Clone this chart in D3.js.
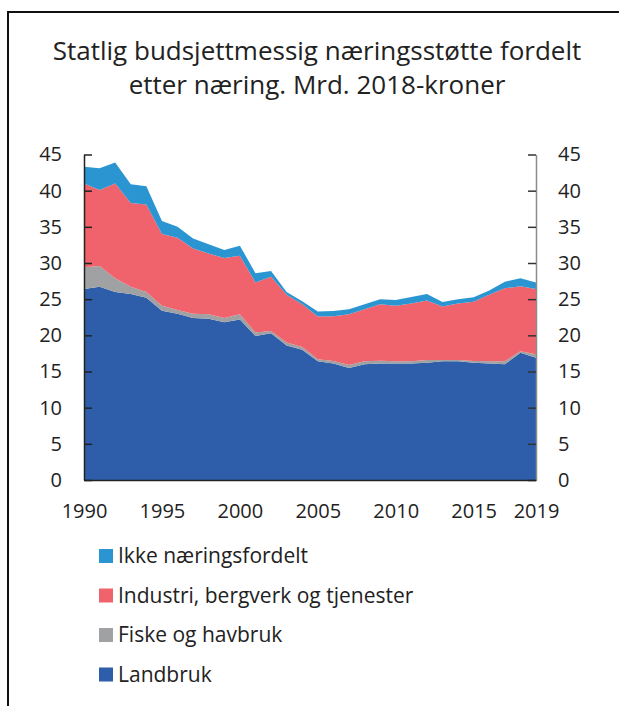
<!DOCTYPE html>
<html>
<head>
<meta charset="utf-8">
<script src="https://cdn.jsdelivr.net/npm/d3@7/dist/d3.min.js"></script>
<style>
  html, body { margin: 0; padding: 0; background: #fff; }
  svg { display: block; font-family: "Open Sans", "Noto Sans", sans-serif; }
</style>
</head>
<body>
<svg id="chart" width="619" height="706"></svg>
<script>
// Statlig budsjettmessig næringsstøtte, mrd. 2018-kroner
const years = d3.range(1990, 2020);

const landbruk = [26.4, 26.7, 26.0, 25.7, 25.2, 23.4, 23.0, 22.4, 22.3, 21.8,
                  22.2, 19.9, 20.3, 18.6, 18.0, 16.4, 16.1, 15.5, 16.0, 16.1,
                  16.1, 16.1, 16.2, 16.4, 16.4, 16.2, 16.1, 16.0, 17.6, 16.9];
const fiske    = [3.0, 2.9, 1.9, 1.0, 0.8, 0.7, 0.5, 0.6, 0.6, 0.6,
                  0.7, 0.5, 0.3, 0.4, 0.4, 0.3, 0.35, 0.4, 0.4, 0.4,
                  0.3, 0.3, 0.4, 0.2, 0.2, 0.25, 0.3, 0.4, 0.2, 0.5];
const industri = [11.6, 10.5, 13.1, 11.6, 12.1, 9.9, 10.0, 9.0, 8.4, 8.3,
                  8.1, 6.9, 7.5, 6.6, 5.9, 5.9, 6.2, 7.0, 7.2, 7.8,
                  7.7, 8.0, 8.2, 7.4, 7.8, 8.2, 9.2, 10.1, 9.0, 9.0];
const ikke     = [2.3, 3.0, 2.9, 2.6, 2.5, 1.8, 1.5, 1.4, 1.3, 1.1,
                  1.4, 1.3, 0.8, 0.4, 0.4, 0.7, 0.7, 0.7, 0.7, 0.7,
                  0.8, 0.9, 0.9, 0.6, 0.6, 0.6, 0.6, 0.9, 1.1, 0.9];

const seriesNames = ["Landbruk", "Fiske og havbruk", "Industri, bergverk og tjenester", "Ikke næringsfordelt"];
const seriesValues = [landbruk, fiske, industri, ikke];
const colors = ["#2e5eaa", "#9fa1a2", "#f0636c", "#2b95d2"];

const yTicks = d3.range(0, 50, 5);
const xTicks = [1990, 1995, 2000, 2005, 2010, 2015, 2019];

const titleLines = ["Statlig budsjettmessig næringsstøtte fordelt",
                    "etter næring. Mrd. 2018-kroner"];

const svg = d3.select("#chart");
const W = 619, H = 706;

// frame (top and left edges)
svg.append("path")
  .attr("d", `M8,${H} V12 H${W}`)
  .attr("fill", "none")
  .attr("stroke", "#111")
  .attr("stroke-width", 2);

// title
svg.append("text")
  .attr("text-anchor", "middle")
  .attr("font-size", 26)
  .attr("fill", "#222")
  .selectAll("tspan")
  .data(titleLines)
  .join("tspan")
  .attr("x", 317)
  .attr("y", (d, i) => 60 + i * 34)
  .text(d => d);

const x = d3.scaleLinear().domain([1990, 2019]).range([84, 536]);
const y = d3.scaleLinear().domain([0, 45]).range([480, 154.5]);

const rows = years.map((yr, i) => {
  const r = { year: yr };
  seriesNames.forEach((n, k) => r[n] = seriesValues[k][i]);
  return r;
});

const stack = d3.stack().keys(seriesNames);
const layers = stack(rows);

const area = d3.area()
  .x(d => x(d.data.year))
  .y0(d => y(d[0]))
  .y1(d => y(d[1]))
  .curve(d3.curveLinear);

svg.append("g")
  .selectAll("path")
  .data(layers)
  .join("path")
  .attr("fill", (d, i) => colors[i])
  .attr("d", area);

// left axis
const gL = svg.append("g")
  .attr("transform", `translate(${x.range()[0]},0)`)
  .call(d3.axisLeft(y).tickValues(yTicks).tickSizeInner(-8).tickSizeOuter(0).tickPadding(22));
gL.select(".domain").attr("stroke", "#222").attr("stroke-width", 1.5);
gL.selectAll(".tick line").attr("stroke", "#222").attr("stroke-width", 1.5);

// right axis
const gR = svg.append("g")
  .attr("transform", `translate(${x.range()[1]},0)`)
  .call(d3.axisRight(y).tickValues(yTicks).tickSizeInner(-8).tickSizeOuter(0).tickPadding(22));
gR.select(".domain").attr("stroke", "#8c8c8c").attr("stroke-width", 1.5);
gR.selectAll(".tick line").attr("stroke", "#333").attr("stroke-width", 1.5);

// bottom axis
const gB = svg.append("g")
  .attr("transform", `translate(0,${y(0)})`)
  .call(d3.axisBottom(x).tickValues(xTicks).tickFormat(d3.format("d")).tickSize(0).tickPadding(24));
gB.select(".domain").attr("stroke", "#222").attr("stroke-width", 1.5);

svg.selectAll(".tick text")
  .attr("font-family", "'Open Sans', 'Noto Sans', sans-serif")
  .attr("font-size", 20)
  .attr("fill", "#222");

// legend (top row is the top layer)
const legendOrder = [3, 2, 1, 0];
const lg = svg.append("g");
const item = lg.selectAll("g")
  .data(legendOrder)
  .join("g")
  .attr("transform", (d, i) => `translate(99,${556 + i * 39.5})`);
item.append("rect")
  .attr("x", 0).attr("y", -7)
  .attr("width", 14).attr("height", 14)
  .attr("fill", d => colors[d]);
item.append("text")
  .attr("x", 19).attr("y", 0)
  .attr("dy", "0.35em")
  .attr("font-size", 21)
  .attr("fill", "#222")
  .text(d => seriesNames[d]);
</script>
</body>
</html>
